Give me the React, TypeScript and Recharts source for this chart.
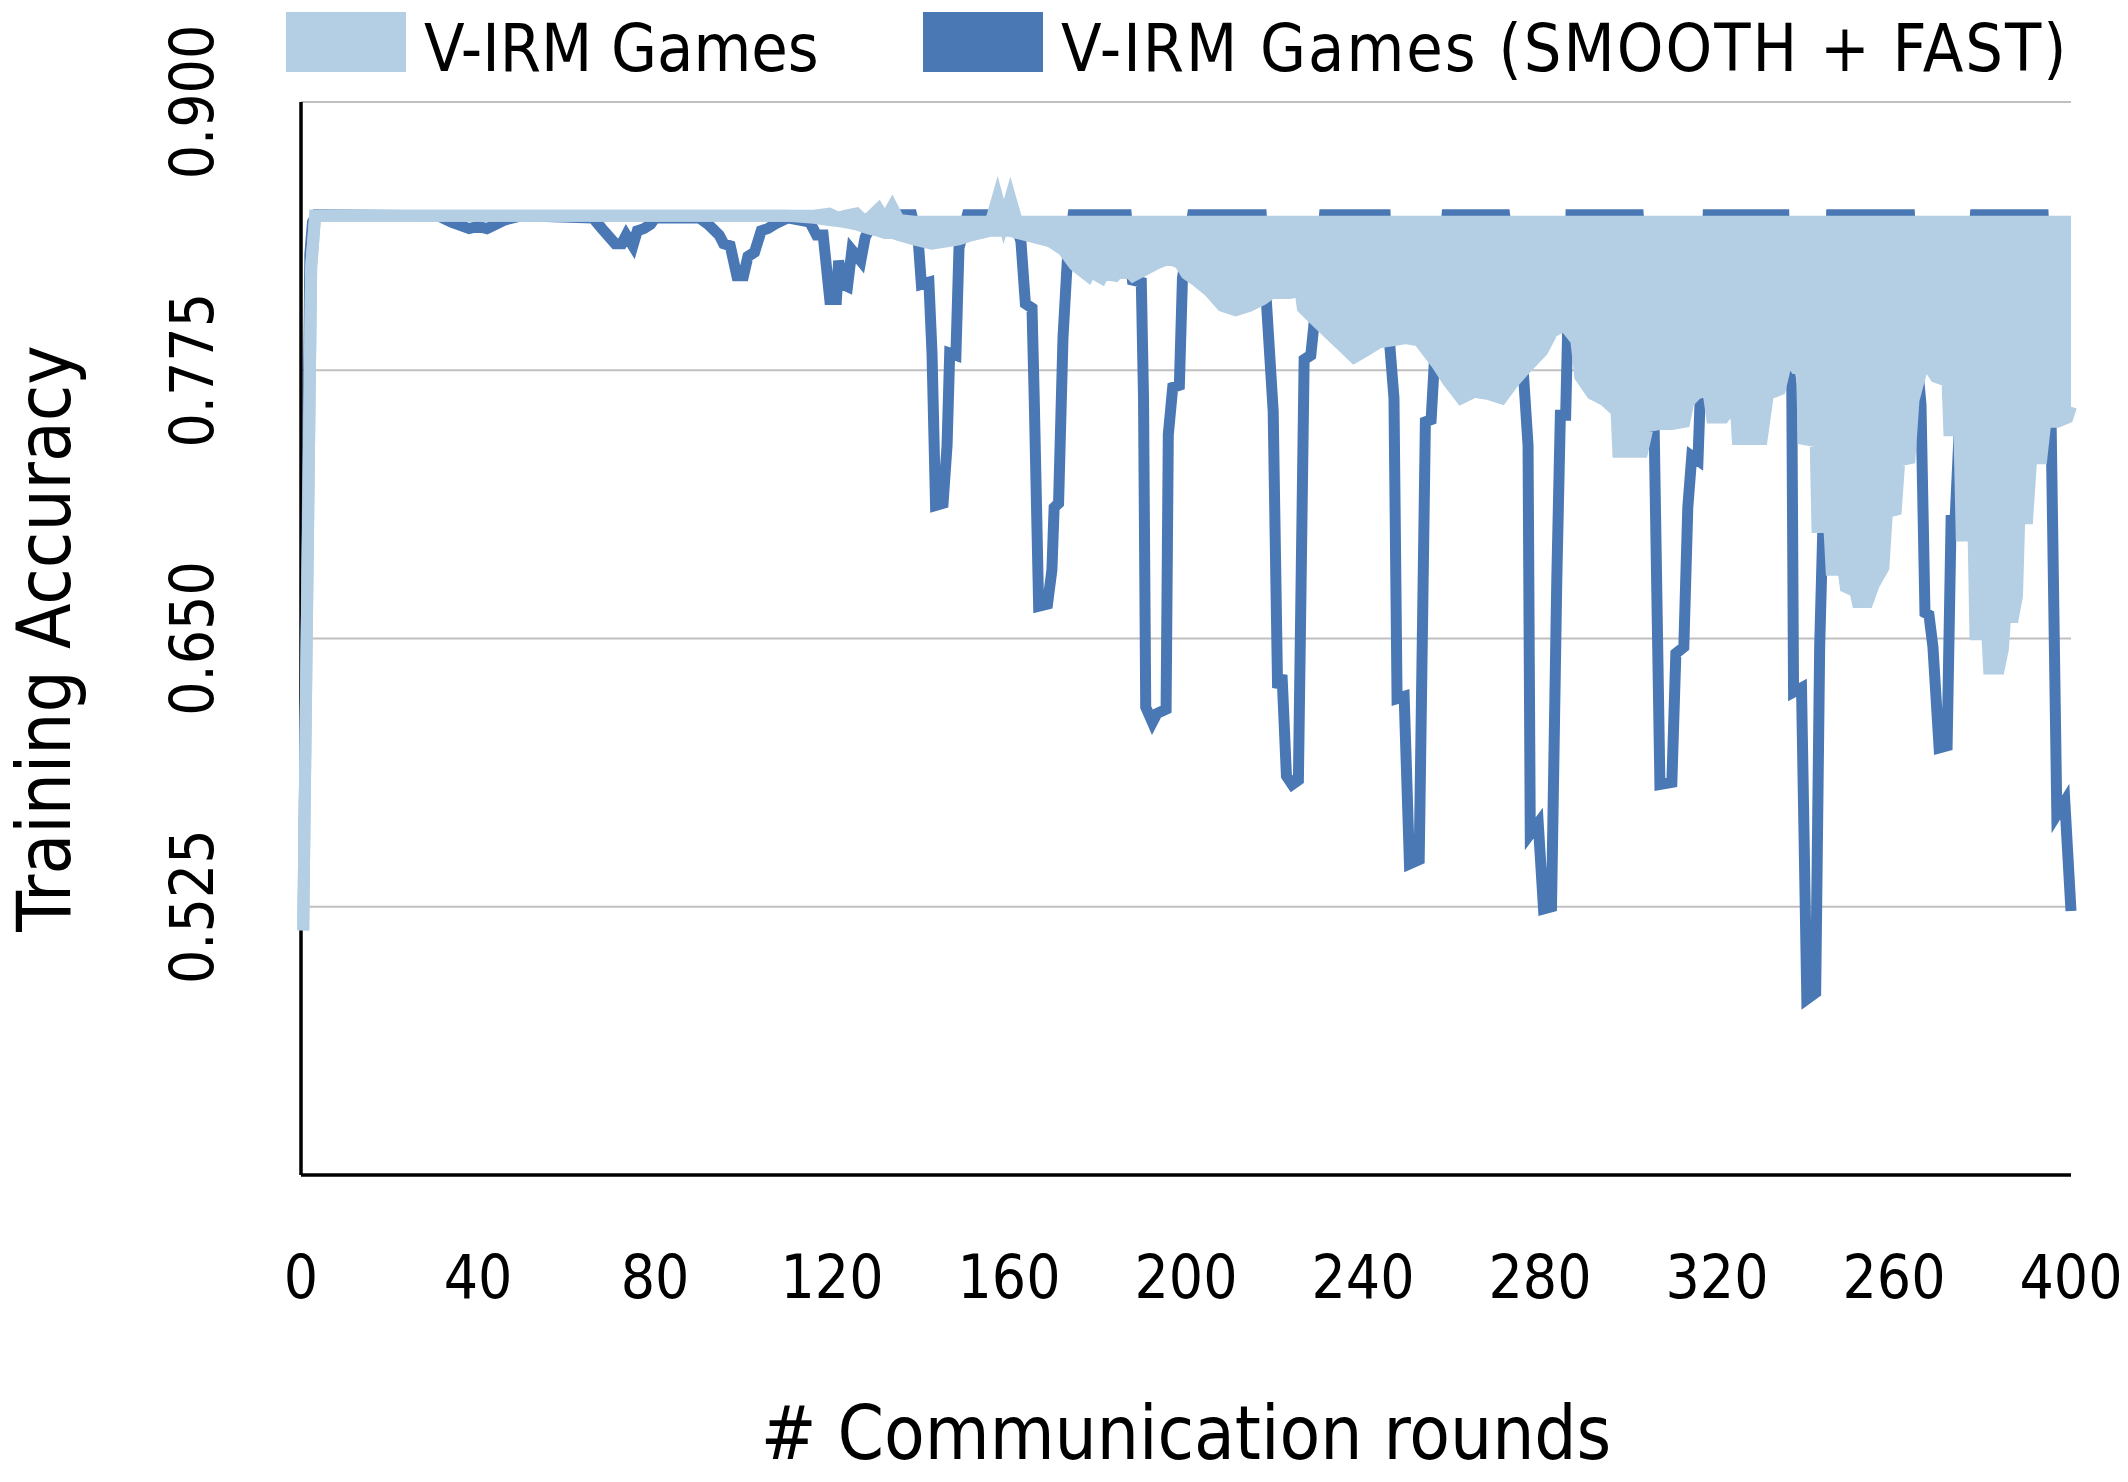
import { ComposedChart, Area, XAxis, YAxis, CartesianGrid, Legend } from "recharts";

const FONT = "'DejaVu Sans Condensed', 'DejaVu Sans', sans-serif";
const LIGHT = "#b4cee3";
const DARK = "#4a78b4";
const W = 2112;
const H = 1466;

const seriesNames = ["V-IRM Games", "V-IRM Games (SMOOTH + FAST)"];
const seriesColors = [LIGHT, DARK];

const xTicks = [0, 40, 80, 120, 160, 200, 240, 280, 320, 360, 400];
// labels as printed in the figure (the 360 tick reads "260")
const xTickLabels = ["0", "40", "80", "120", "160", "200", "240", "280", "320", "260", "400"];
const yTicks = [0.525, 0.65, 0.775, 0.9];
const yTickLabels = ["0.525", "0.650", "0.775", "0.900"];

// V-IRM Games (SMOOTH + FAST): vertices
const darkRounds = [
  0.5, 2, 2.6, 3.5, 31, 34, 38, 40, 42, 46, 50,
  66, 68, 71, 72.5, 73.5, 75, 76, 77.5, 79, 80,
  90, 92, 94.5, 95.5, 97, 98.5, 100, 101, 102.5, 104, 105.5, 107, 110,
  115, 116.5, 118, 119.5, 121, 121.5, 122.5, 123.5, 124.5, 126.5, 127.5, 128.5, 130, 133, 138,
  139.5, 140.2, 141.9, 142.6, 143.4, 145.1, 146, 146.6, 148, 148.7, 150.6, 158.7, 161.5,
  162.7, 163.7, 165.2, 165.7, 166.7, 168.7, 169.7, 170.2, 171.2, 172.2, 173.2, 174.5, 186.5,
  187.9, 189.9, 190.4, 190.9, 192.4, 193.4, 195.5, 196, 197, 198.5, 199.2, 201.5, 217,
  218.2, 219.7, 220.7, 221.7, 222.7, 224, 225.4, 226.7, 228.2, 229.2, 231.3, 245,
  246, 247, 247.7, 249.3, 250.5, 252.7, 254.1, 255.4, 256.1, 259, 272,
  276.3, 277.3, 277.8, 279.6, 280.8, 282.6, 283.8, 284.6, 285.8, 286.3, 287, 302.2,
  305.8, 307.1, 309.8, 310.7, 312.5, 313.4, 314.3, 315.7, 316.2, 318, 335.1,
  336, 336.9, 337.3, 339.1, 340.3, 342.3, 343.2, 343.9, 345.9, 363.5,
  365.4, 366.1, 367, 367.9, 368.8, 370.2, 372, 372.9, 373.8, 374.7, 378.4, 393.7,
  395.5, 396.8, 398.6, 400,
];
const darkAcc = [
  0.52, 0.829, 0.844, 0.8475, 0.847, 0.844, 0.841, 0.842, 0.841, 0.845, 0.847,
  0.846, 0.841, 0.834, 0.834, 0.838, 0.833, 0.84, 0.841, 0.843, 0.846,
  0.846, 0.843, 0.838, 0.834, 0.833, 0.819, 0.819, 0.828, 0.83, 0.84, 0.841, 0.843, 0.846,
  0.844, 0.838, 0.838, 0.808, 0.808, 0.826, 0.815, 0.814, 0.831, 0.826, 0.837, 0.841, 0.845, 0.8475, 0.8475,
  0.835, 0.815, 0.816, 0.783, 0.712, 0.713, 0.74, 0.783, 0.782, 0.832, 0.8475, 0.8475, 0.843,
  0.835, 0.806, 0.804, 0.762, 0.665, 0.666, 0.682, 0.711, 0.713, 0.79, 0.827, 0.8475, 0.8475,
  0.817, 0.816, 0.762, 0.618, 0.611, 0.615, 0.617, 0.745, 0.767, 0.768, 0.818, 0.8475, 0.8475,
  0.806, 0.756, 0.627, 0.633, 0.586, 0.582, 0.584, 0.78, 0.782, 0.802, 0.8475, 0.8475,
  0.788, 0.762, 0.622, 0.623, 0.545, 0.547, 0.751, 0.752, 0.778, 0.8475, 0.8475,
  0.772, 0.74, 0.559, 0.564, 0.524, 0.525, 0.678, 0.754, 0.754, 0.798, 0.8475, 0.8475,
  0.748, 0.582, 0.583, 0.643, 0.646, 0.711, 0.735, 0.733, 0.762, 0.8475, 0.8475,
  0.78, 0.767, 0.625, 0.627, 0.482, 0.485, 0.646, 0.7, 0.8475, 0.8475,
  0.775, 0.759, 0.662, 0.661, 0.646, 0.599, 0.6, 0.705, 0.705, 0.745, 0.8475, 0.8475,
  0.751, 0.568, 0.574, 0.523,
];

// V-IRM Games: the curve oscillates fast, so it is kept as its low / high envelope
const lightRounds = [
  0.5, 2.3, 3.2, 5, 110, 116,
  119.4, 121.4, 122.9, 125.5, 127, 128.5, 130.5, 132, 133.6, 135.1,
  138.6, 142.5, 145.6, 148.6, 151.6, 155.9, 157.4, 158.8, 160.3, 161.8,
  169.4, 172.3, 174.8, 177.9, 178.4, 180.9, 181.4, 184, 184.5, 187, 188,
  193.6, 196.1, 198.6, 200.1, 202.2, 205.2, 208.2, 211.2, 214.3, 217.3,
  219.3, 223.4, 225.9, 226.4, 229.4, 232.4, 235.5, 238, 240.5, 243.6,
  246.6, 249.6, 252.6, 256.7, 259.2, 262.2, 265.2, 268.2, 271.3, 273.8,
  276.8, 280.5, 282.8, 285.5, 288.2, 289.1, 291.8, 294.6, 297.3, 297.7,
  300.9, 303.1, 304.4, 307.1, 309.8, 312.6, 313.5, 315.3, 318, 318.9,
  321.5, 324.2, 324.7, 327.4, 330.1, 331.5, 334.2, 336, 337.8, 339.2,
  339.6, 342.3, 342.7, 345.4, 345.9, 348.6, 349.1, 351.3, 351.8, 354,
  355.4, 357.6, 358.4, 360.4, 361.2, 363.5, 364.4, 366.6, 367.5, 369.4,
  372.1, 372.5, 374.8, 375.3, 378, 378.4, 381.1, 381.5, 383.7, 384.6,
  385.1, 386.9, 387.8, 388.3, 390.1, 391, 393.3, 394.2, 396.9, 399.2, 400,
];
const lightLow = [
  0.514, 0.823, 0.847, 0.847, 0.847, 0.846,
  0.845, 0.8445, 0.844, 0.843, 0.842, 0.841, 0.84, 0.839, 0.839, 0.838,
  0.836, 0.834, 0.835, 0.836, 0.838, 0.84, 0.84, 0.84, 0.84, 0.839,
  0.835, 0.831, 0.824, 0.819, 0.821, 0.818, 0.82, 0.819, 0.82, 0.821, 0.819,
  0.825, 0.827, 0.825, 0.82, 0.817, 0.812, 0.805, 0.803, 0.805, 0.808,
  0.811, 0.811, 0.812, 0.804, 0.798, 0.792, 0.786, 0.781, 0.784, 0.788,
  0.789, 0.79, 0.789, 0.778, 0.77, 0.762, 0.765, 0.764, 0.762, 0.769,
  0.776, 0.784, 0.793, 0.796, 0.789, 0.772, 0.764, 0.761, 0.756, 0.737,
  0.737, 0.737, 0.749, 0.75, 0.75, 0.751, 0.76, 0.764, 0.766, 0.753,
  0.753, 0.761, 0.743, 0.743, 0.743, 0.764, 0.766, 0.782, 0.776, 0.776,
  0.743, 0.742, 0.702, 0.702, 0.682, 0.682, 0.674, 0.672, 0.667, 0.667,
  0.675, 0.683, 0.709, 0.71, 0.733, 0.734, 0.761, 0.778, 0.778, 0.772,
  0.77, 0.747, 0.747, 0.698, 0.698, 0.652, 0.652, 0.636, 0.636, 0.645,
  0.66, 0.66, 0.67, 0.706, 0.706, 0.734, 0.734, 0.751, 0.751, 0.753, 0.758,
];
const lightHigh = [
  0.514, 0.823, 0.847, 0.847, 0.847, 0.847,
  0.848, 0.846, 0.847, 0.848, 0.845, 0.846, 0.85, 0.845, 0.851, 0.845,
  0.8442, 0.8442, 0.8442, 0.8442, 0.8442, 0.8442, 0.855, 0.8442, 0.855, 0.8442,
  0.8442, 0.8442, 0.8442, 0.8442, 0.8442, 0.8442, 0.8442, 0.8442, 0.8442, 0.8442, 0.8442,
  0.8442, 0.8442, 0.8442, 0.8442, 0.8442, 0.8442, 0.8442, 0.8442, 0.8442, 0.8442,
  0.8442, 0.8442, 0.8442, 0.8442, 0.8442, 0.8442, 0.8442, 0.8442, 0.8442, 0.8442,
  0.8442, 0.8442, 0.8442, 0.8442, 0.8442, 0.8442, 0.8442, 0.8442, 0.8442, 0.8442,
  0.8442, 0.8442, 0.8442, 0.8442, 0.8442, 0.8442, 0.8442, 0.8442, 0.8442, 0.8442,
  0.8442, 0.8442, 0.8442, 0.8442, 0.8442, 0.8442, 0.8442, 0.8442, 0.8442, 0.8442,
  0.8442, 0.8442, 0.8442, 0.8442, 0.8442, 0.8442, 0.8442, 0.8442, 0.8442, 0.8442,
  0.8442, 0.8442, 0.8442, 0.8442, 0.8442, 0.8442, 0.8442, 0.8442, 0.8442, 0.8442,
  0.8442, 0.8442, 0.8442, 0.8442, 0.8442, 0.8442, 0.8442, 0.8442, 0.8442, 0.8442,
  0.8442, 0.8442, 0.8442, 0.8442, 0.8442, 0.8442, 0.8442, 0.8442, 0.8442, 0.8442,
  0.8442, 0.8442, 0.8442, 0.8442, 0.8442, 0.8442, 0.8442, 0.8442, 0.8442, 0.8442, 0.8442,
];

// merge both series onto one round axis (gaps are bridged with connectNulls)
const rows = new Map<number, any>();
darkRounds.forEach((r, i) => {
  rows.set(r, { ...(rows.get(r) || { round: r }), dark: darkAcc[i] });
});
lightRounds.forEach((r, i) => {
  rows.set(r, { ...(rows.get(r) || { round: r }), light: [lightLow[i], lightHigh[i]] });
});
const data = [...rows.values()].sort((a, b) => a.round - b.round);

const textProps = { fontFamily: FONT, fontStretch: "condensed", fill: "#000" };

function XTick({ x, y, payload }: any) {
  return (
    <text x={x} y={y + 123} textAnchor="middle" fontSize={60} {...textProps}>
      {xTickLabels[xTicks.indexOf(payload.value)]}
    </text>
  );
}

function YTick({ x, y, payload }: any) {
  return (
    <text transform={`translate(${x - 88}, ${y}) rotate(-90)`} textAnchor="middle" fontSize={60} {...textProps}>
      {yTickLabels[yTicks.indexOf(payload.value)]}
    </text>
  );
}

function XTitle(props: any) {
  const vb = props.viewBox ?? { x: 293, y: 1167, width: 1770, height: 299 };
  return (
    <text x={vb.x + vb.width / 2} y={vb.y + 284} textAnchor="middle" fontSize={74} {...textProps}>
      # Communication rounds
    </text>
  );
}

function YTitle(props: any) {
  const vb = props.viewBox ?? { x: 0, y: 94, width: 293, height: 1073 };
  return (
    <text transform={`translate(62, ${vb.y + vb.height / 2}) rotate(-90)`} textAnchor="middle" fontSize={74} {...textProps}>
      Training Accuracy
    </text>
  );
}

const legendX = [278, 915];
const legendSpacing = [0, 2];

function LegendBox() {
  return (
    <svg width={W} height={80} style={{ display: "block" }}>
      {seriesNames.map((name, i) => (
        <g key={name}>
          <rect x={legendX[i]} y={4} width={120} height={60} fill={seriesColors[i]} />
          <text x={legendX[i] + 138} y={63} fontSize={66} letterSpacing={legendSpacing[i]} {...textProps}>
            {name}
          </text>
        </g>
      ))}
    </svg>
  );
}

export default function App() {
  return (
    <ComposedChart width={W} height={H} data={data} margin={{ top: 94, right: 49, bottom: 0, left: 0 }}>
      <CartesianGrid vertical={false} stroke="#c0c0c0" strokeWidth={2} />
      <XAxis
        type="number"
        dataKey="round"
        domain={[0, 400]}
        ticks={xTicks}
        interval={0}
        height={299}
        tickLine={false}
        tickSize={0}
        tickMargin={0}
        axisLine={{ stroke: "#000", strokeWidth: 3.5 }}
        tick={<XTick />}
        label={XTitle}
      />
      <YAxis
        type="number"
        domain={[0.4, 0.9]}
        ticks={yTicks}
        interval={0}
        width={293}
        tickLine={false}
        tickSize={0}
        tickMargin={0}
        axisLine={{ stroke: "#000", strokeWidth: 3.5 }}
        tick={<YTick />}
        label={YTitle}
      />
      <Area
        dataKey="dark"
        name={seriesNames[1]}
        type="linear"
        stroke={DARK}
        strokeWidth={11}
        fill="none"
        connectNulls
        dot={false}
        activeDot={false}
        isAnimationActive={false}
        zIndex={600}
      />
      <Area
        dataKey="light"
        name={seriesNames[0]}
        type="linear"
        stroke={LIGHT}
        strokeWidth={12}
        fill={LIGHT}
        fillOpacity={1}
        connectNulls
        dot={false}
        activeDot={false}
        isAnimationActive={false}
        zIndex={610}
      />
      <Legend
        content={<LegendBox />}
        layout="horizontal"
        verticalAlign="middle"
        align="center"
        wrapperStyle={{ top: 0, left: 0, width: W, height: 80 }}
      />
    </ComposedChart>
  );
}
